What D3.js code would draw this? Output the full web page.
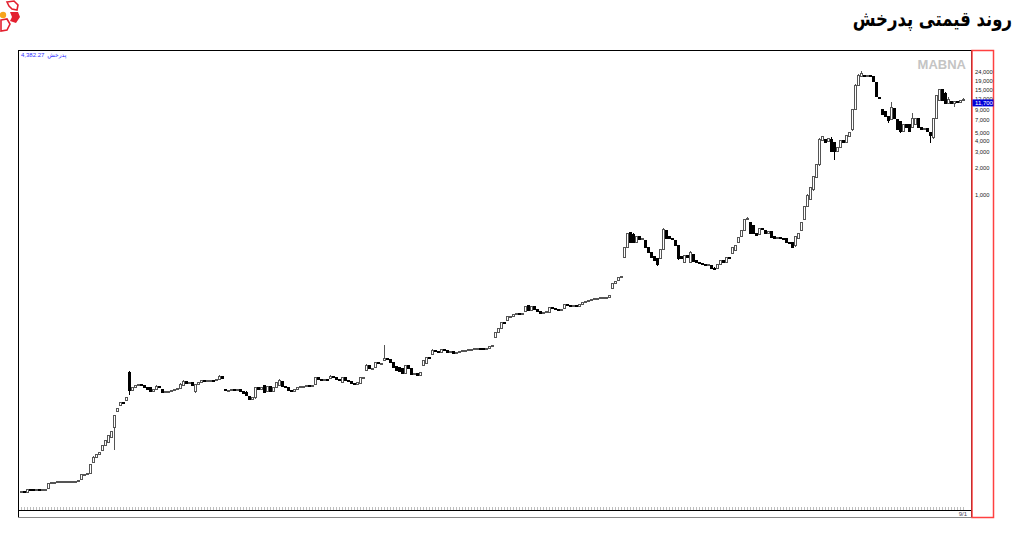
<!DOCTYPE html>
<html><head><meta charset="utf-8">
<script src="https://cdn.jsdelivr.net/npm/d3@7"></script>
<style>html,body{margin:0;padding:0;background:#fff;}svg{display:block;}</style>
</head><body>
<svg id="chart" width="1014" height="537"></svg>
<script>
// ---- data (weekly candles, price on log scale) ----
const open = [.456,.456,.444,.475,.470,.468,.470,.468,.470,.493,
.560,.575,.575,.580,.580,.585,.585,.590,.590,.590,
.620,.700,.705,.726,.965,1.10,1.19,1.32,1.50,1.62,
1.85,2.39,3.60,4.24,4.58,4.83,9.90,6.25,6.60,7.00,
7.30,7.00,6.76,6.60,5.95,6.40,6.90,6.40,5.80,5.95,
6.10,6.25,6.42,6.58,7.10,7.90,7.50,7.70,6.00,7.30,
7.70,8.10,7.90,8.10,8.10,7.95,8.30,8.90,6.40,6.25,
6.25,6.42,6.20,6.42,6.00,5.90,5.30,4.95,5.10,6.60,
6.40,7.10,5.95,6.90,6.10,6.60,7.00,7.90,6.80,6.60,
6.25,6.10,6.42,6.76,6.94,6.94,7.12,6.94,7.30,8.55,
8.30,8.11,8.32,8.50,8.90,8.55,8.30,7.70,8.55,8.10,
7.90,7.50,7.30,7.50,8.55,10.5,11.7,10.8,11.35,12.9,
12.3,13.6,14.3,13.9,12.9,11.6,11.35,10.8,9.7,11.96,
11.0,9.47,9.73,9.23,11.96,12.6,14.7,15.9,17.6,17.1,
16.7,18.1,17.6,16.7,17.1,16.3,16.7,17.1,17.6,17.6,
18.1,18.1,18.6,18.6,18.3,18.1,18.6,19.1,24.7,28.1,
31.2,36.5,38.4,42.6,42.6,44.9,46.0,44.9,48.5,56.7,
49.8,55.2,51.1,48.5,46.0,47.3,47.3,53.8,52.4,51.1,
49.8,52.4,58.2,56.7,55.2,56.7,55.2,58.2,61.3,62.9,
64.5,66.2,67.9,67.9,69.7,69.7,69.7,88,100,106,
117,196,255,376,357,290,333,310,300,250,
220,200,190,190,240,390,339,322,300,268,
200,172,207,172,210,178,172,168,164,160,
156,148,148,164,182,172,196,218,236,290,
339,396,514,480,440,366,357,410,396,366,
386,339,322,330,322,314,283,283,262,320,
396,514,738,863,1118,1550,2140,4000,4090,3900,
4090,3800,3070,3400,3990,3790,4420,5300,9000,17000,
21000,22000,21500,21800,21200,18000,12400,9100,8500,7600,
7000,9200,6870,6600,5150,6030,6030,5700,6030,7050,
5700,5300,5550,5000,4400,7050,11500,14950,13800,10500,
11200,10500,11200,10900,11500];
const high = [.462,.460,.485,.480,.472,.472,.471,.472,.474,.565,
.578,.578,.582,.583,.587,.588,.592,.593,.594,.603,
.710,.708,.713,.930,1.12,1.20,1.26,1.52,1.73,1.97,
2.18,3.30,3.95,4.62,4.62,5.25,10.2,6.75,7.05,7.35,
7.35,7.05,6.80,6.80,6.45,7.10,6.95,6.45,6.00,6.15,
6.30,6.45,6.62,7.50,8.10,7.95,7.75,7.75,7.40,7.75,
8.15,8.15,8.15,8.15,8.15,8.35,9.20,9.00,6.45,6.30,
6.45,6.45,6.45,6.45,6.05,6.10,5.35,5.15,6.70,6.65,
6.65,7.20,6.95,6.95,6.65,7.75,8.30,7.95,6.85,6.65,
6.30,6.45,6.80,6.98,7.00,7.15,7.15,7.15,8.80,8.60,
8.35,8.36,8.36,9.30,8.95,8.60,8.35,8.60,8.60,8.15,
7.95,7.55,7.75,8.60,8.70,12.3,11.8,11.1,12.95,13.0,
12.7,20.1,14.4,14.0,13.0,11.7,11.4,10.9,12.1,12.0,
11.1,9.8,9.8,10.0,13.7,14.9,14.8,18.1,17.7,17.2,
18.2,18.2,17.7,17.2,17.2,16.8,17.2,17.7,17.8,18.2,
18.3,18.7,18.8,18.7,18.4,18.7,19.2,20.2,28.3,31.4,
36.8,36.9,43.0,43.0,45.2,46.3,46.2,46.3,55.5,57.0,
55.5,55.5,51.4,48.8,47.6,48.8,54.2,54.1,52.7,51.4,
51.4,58.5,58.5,57.0,57.0,57.0,58.5,61.6,63.2,64.8,
66.5,68.2,68.2,70.0,70.0,70.0,73.8,101,104,117,
119,258,370,380,362,336,336,323,303,253,
223,203,193,242,420,395,342,325,303,270,
203,209,210,230,213,180,174,170,166,164,
158,150,166,184,184,198,198,252,270,333,
400,530,556,485,444,369,414,414,400,390,
390,342,333,333,325,317,286,286,342,370,
480,728,1000,1220,1620,2160,4300,4480,4150,4250,
4400,3850,3430,4030,4030,4700,5050,9100,17500,22500,
24500,22300,22000,22000,21400,18200,12600,9200,8600,7700,
10950,9300,6950,6700,6100,6100,6100,8200,7100,7100,
5750,5600,5600,5050,7100,13200,15500,15100,14000,12500,
11300,11300,11300,11600,12200];
const low = [.450,.444,.444,.468,.465,.466,.466,.467,.468,.490,
.558,.572,.573,.578,.578,.583,.583,.588,.587,.588,
.620,.698,.700,.720,.960,1.09,1.18,1.31,1.49,1.60,
1.83,1.32,3.50,4.20,4.50,4.80,5.50,6.20,6.55,6.95,
6.95,6.70,6.38,5.90,5.90,6.35,6.55,5.75,5.75,5.90,
6.05,6.20,6.38,6.55,7.05,7.45,7.45,7.05,5.80,7.25,
7.65,7.85,7.85,8.05,7.90,7.90,8.25,8.45,6.20,6.20,
6.20,6.15,6.15,5.90,5.60,5.35,4.85,4.90,5.00,6.35,
6.35,5.75,5.90,6.05,6.05,6.55,6.95,6.75,6.55,6.20,
6.05,6.05,6.38,6.72,6.88,6.90,6.90,6.90,7.25,8.25,
8.05,8.05,8.05,8.45,8.50,8.25,7.95,7.65,8.05,7.85,
7.45,7.25,7.25,7.45,8.45,10.2,10.7,10.7,11.3,12.2,
12.2,13.4,13.8,12.8,11.3,10.4,10.1,9.6,9.6,10.9,
9.4,9.4,9.0,9.2,11.7,12.5,14.2,15.8,17.0,16.6,
16.6,17.5,16.6,16.6,16.2,16.2,16.6,17.0,17.5,17.5,
18.0,18.0,18.5,18.2,18.0,18.0,18.5,19.0,24.5,27.9,
31.0,35.8,38.2,42.2,42.4,44.7,44.6,44.7,48.2,49.6,
49.6,50.9,48.3,45.8,45.8,47.1,47.1,52.2,50.9,49.6,
49.6,52.2,56.5,55.0,55.0,55.0,55.0,58.0,61.1,62.7,
64.3,66.0,67.6,67.7,69.4,69.4,69.5,87,99,105,
116,190,252,280,287,287,307,307,248,218,
191,180,155,185,236,318,320,312,263,180,
188,170,194,170,173,170,166,162,158,158,
146,142,146,162,170,170,190,216,234,287,
336,392,510,362,362,345,354,402,362,362,
327,320,320,320,312,280,273,252,258,317,
392,510,730,855,1100,1530,2100,3950,3760,3860,
3040,2430,3040,3370,3760,3760,4380,5200,8900,16800,
20800,21300,21300,20800,18300,12300,11700,7800,7500,6400,
6900,7000,5250,4900,5100,5550,5050,5650,5980,5650,
5250,5250,5100,3800,4200,7000,11400,11400,10400,10400,
10400,9700,10800,10800,11400];
const close = [.456,.450,.480,.470,.468,.470,.468,.470,.472,.560,
.575,.575,.580,.580,.585,.585,.590,.590,.590,.600,
.700,.705,.710,.917,1.10,1.19,1.25,1.50,1.71,1.95,
2.16,3.27,3.92,4.58,4.55,5.21,6.20,6.70,7.00,7.30,
7.00,6.76,6.42,5.95,6.40,6.94,6.60,5.80,5.95,6.10,
6.25,6.42,6.58,7.30,7.90,7.50,7.70,7.12,7.30,7.70,
8.10,7.90,8.10,8.10,7.95,8.30,8.90,8.50,6.25,6.25,
6.42,6.20,6.42,5.95,5.65,5.40,4.95,5.10,6.60,6.40,
6.60,5.80,6.90,6.10,6.60,7.70,8.10,6.80,6.60,6.25,
6.10,6.42,6.76,6.94,6.94,7.12,6.94,7.12,8.55,8.30,
8.11,8.32,8.11,8.90,8.55,8.30,8.00,8.55,8.10,7.90,
7.50,7.30,7.70,8.55,8.55,11.96,10.8,11.0,12.9,12.3,
12.6,14.3,13.9,12.9,11.35,10.5,10.2,9.7,11.96,11.0,
9.47,9.73,9.23,9.97,13.6,14.7,14.3,17.6,17.1,16.7,
18.1,17.6,16.7,17.1,16.3,16.7,17.1,17.6,17.6,18.1,
18.1,18.6,18.6,18.3,18.1,18.6,19.1,20.1,28.1,31.2,
36.5,36.0,42.6,42.6,44.9,46.0,44.9,46.0,55.2,49.8,
55.2,51.1,48.5,46.0,47.3,48.5,53.8,52.4,51.1,49.8,
51.1,58.2,56.7,55.2,56.7,55.2,58.2,61.3,62.9,64.5,
66.2,67.9,67.9,69.7,69.7,69.7,73.5,100,103,116,
118,255,366,283,290,333,310,320,250,220,
193,182,160,240,400,320,322,314,265,190,
190,207,196,222,175,172,168,164,160,162,
148,144,164,182,172,196,192,250,268,330,
396,514,540,366,366,348,410,405,366,386,
330,322,330,322,314,283,276,255,339,366,
476,720,980,1208,1607,2140,4090,4420,3800,4200,
3070,3000,3400,3990,3790,4650,5000,8900,17000,22000,
23200,21500,21800,21000,18500,12500,11900,7900,7600,6700,
9400,7100,5300,5050,6030,5600,5100,7200,7050,5700,
5300,5550,5150,4650,7050,13100,14950,11500,10500,11530,
10500,11200,10900,11500,11700];
const priceTicks = [1000, 2000, 3000, 4000, 5000, 7000, 9000, 12000, 15000, 19000, 24000];
const lastPrice = 11700;
const title = "روند قیمتی پدرخش";
const infoValue = "4,382.27";
const infoName = "پدرخش";
const watermark = "MABNA";
const dateLabel = "9/1";

// ---- drawing ----
const svg = d3.select("#chart");
const N = close.length;
const x = d3.scaleLinear().domain([0, N - 1]).range([21, 963]);
const y = d3.scaleLog().domain([1000, 24000]).range([194.3, 71.7]);

// logo
const logo = svg.append("g");
logo.append("path").attr("d", "M7,2 L14,1 L18,5 L17,10 L12,9 L9,6 Z").attr("fill", "none").attr("stroke", "#e3202f").attr("stroke-width", 1.6);
logo.append("path").attr("d", "M10,12 L18,12 L20,17 L16,23 L10,21 L12,17 Z").attr("fill", "#e3202f");
logo.append("path").attr("d", "M1,20 L7,19 L10,24 L7,30 L1,31 Z").attr("fill", "none").attr("stroke", "#e3202f").attr("stroke-width", 1.6);
logo.append("circle").attr("cx", 3).attr("cy", 15).attr("r", 3.2).attr("fill", "#f7a51c");

// title: right edge at x=1012 (middle anchor, direction independent)
const tg = svg.append("g").attr("transform", "translate(0,26) scale(1,1.25)");
const tt = tg.append("text").attr("y", 0).attr("text-anchor", "middle")
  .attr("font-family", "DejaVu Sans").attr("font-weight", "bold").attr("font-size", 16.5)
  .attr("fill", "#000").text(title);
const tw = tt.node().getComputedTextLength();
tt.attr("x", 1012 - tw / 2);

// frames
svg.append("rect").attr("x", 18.5).attr("y", 50.5).attr("width", 953).attr("height", 467)
  .attr("fill", "none").attr("stroke", "#000").attr("stroke-width", 1);
svg.append("line").attr("x1", 18).attr("x2", 972).attr("y1", 517.5).attr("y2", 517.5).attr("stroke", "#888");
svg.append("rect").attr("x", 972).attr("y", 50.5).attr("width", 21.5).attr("height", 467)
  .attr("fill", "none").attr("stroke", "#ff4040").attr("stroke-width", 1.5);

// watermark
svg.append("text").attr("x", 966).attr("y", 69).attr("text-anchor", "end")
  .attr("font-family", "Liberation Sans").attr("font-weight", "bold").attr("font-size", 13)
  .attr("fill", "#c4c4c4").text(watermark);

// info label: number on the left, name to its right
const iv = svg.append("text").attr("y", 57).attr("text-anchor", "middle").attr("font-family", "Liberation Sans")
  .attr("font-size", 6).attr("fill", "#3030ff").text(infoValue);
const ivw = iv.node().getComputedTextLength();
iv.attr("x", 21 + ivw / 2);
const inn = svg.append("text").attr("y", 57).attr("text-anchor", "middle").attr("font-family", "DejaVu Sans")
  .attr("font-size", 6).attr("fill", "#3030ff").text(infoName);
const inw = inn.node().getComputedTextLength();
inn.attr("x", 21 + ivw + 3 + inw / 2);

// bottom tick strip
svg.append("g").selectAll("line").data(d3.range(N)).join("line")
  .attr("x1", i => Math.round(x(i)) + 0.5).attr("x2", i => Math.round(x(i)) + 0.5)
  .attr("y1", 507).attr("y2", 510).attr("stroke", "#bdbdbd");
svg.append("line").attr("x1", 19).attr("x2", 971).attr("y1", 510.5).attr("y2", 510.5).attr("stroke", "#000");
svg.append("text").attr("x", 967).attr("y", 516).attr("text-anchor", "end").attr("font-family", "Liberation Sans")
  .attr("font-size", 6).attr("fill", "#445").text(dateLabel);

// candles
const cg = svg.append("g").attr("shape-rendering", "crispEdges");
const idx = d3.range(N);
cg.selectAll("line.w").data(idx).join("line")
  .attr("x1", i => Math.round(x(i)) + 0.5).attr("x2", i => Math.round(x(i)) + 0.5)
  .attr("y1", i => y(high[i])).attr("y2", i => y(low[i]))
  .attr("stroke", i => close[i] >= open[i] ? "#555" : "#000").attr("stroke-width", 1);
cg.selectAll("rect.b").data(idx).join("rect")
  .attr("x", i => Math.round(x(i)) - 0.5)
  .attr("width", 2)
  .attr("y", i => Math.min(y(open[i]), y(close[i])))
  .attr("height", i => Math.max(1, Math.abs(y(open[i]) - y(close[i]))))
  .attr("fill", i => close[i] >= open[i] ? "#fff" : "#000")
  .attr("stroke", i => close[i] >= open[i] ? "#555" : "#000").attr("stroke-width", 1);

// price axis
const axis = d3.axisRight(y).tickValues(priceTicks).tickSize(0).tickPadding(0).tickFormat(d3.format(","));
const ag = svg.append("g").attr("transform", "translate(975,0)").call(axis);
ag.select(".domain").remove();
ag.selectAll("text").attr("font-family", "Liberation Sans").attr("font-size", 5.8).attr("fill", "#222").attr("dy", "0.32em");

// current price marker
const yp = y(lastPrice);
svg.append("rect").attr("x", 972.5).attr("y", yp).attr("width", 21).attr("height", 7).attr("fill", "#0000d8");
svg.append("text").attr("x", 975).attr("y", yp + 5.6).attr("font-family", "Liberation Sans").attr("font-size", 6)
  .attr("fill", "#fff").text(d3.format(",")(lastPrice));
</script>
</body></html>
